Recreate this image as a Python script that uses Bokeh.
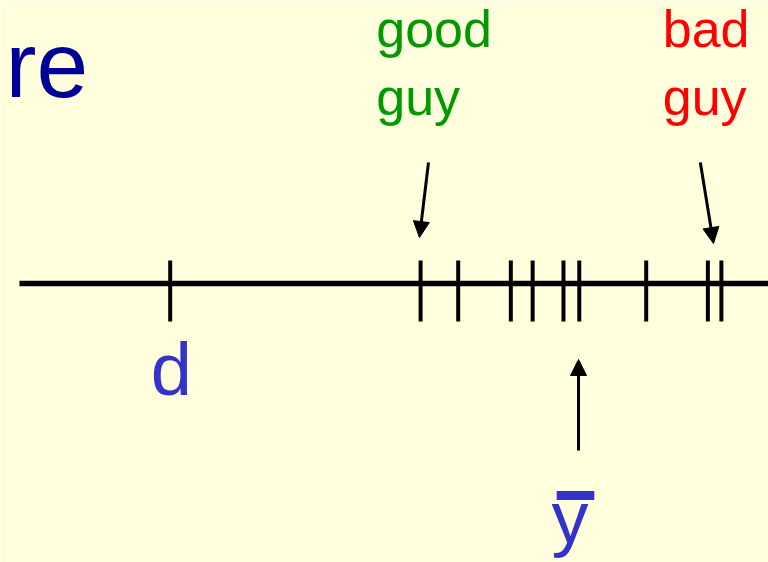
from bokeh.plotting import figure
from bokeh.models import Range1d, Arrow, NormalHead
from bokeh.core.properties import value
from bokeh.embed import file_html
from bokeh.resources import INLINE

# ---- data (number-line units, 0..100 across the slide) ----
d_value = 21.5
observations = [54.8, 59.8, 66.8, 69.7, 73.8, 75.9, 84.8, 93.0, 94.8]
ybar_value = 75.8
good_guy_value = 54.8
bad_guy_value = 94.0

title_text = "re"
good_label = ["good", "guy"]
bad_label = ["bad", "guy"]
d_label = "d"
ybar_label = "y"

BG = "#FFFFDD"
FONT = "Liberation Sans"

p = figure(width=768, height=562, output_backend="svg", toolbar_location=None,
           x_range=Range1d(-8 / 7.52, 760 / 7.52), y_range=Range1d(-279, 283),
           background_fill_color=BG, border_fill_color=BG, min_border=0)
p.axis.visible = False
p.grid.visible = False
p.outline_line_color = None

# number line
p.segment(x0=[1.46], y0=[0], x1=[102], y1=[0], line_color="black", line_width=5.5)

# tick marks for d and observations
ticks = [d_value] + observations
p.segment(x0=ticks, y0=[23] * len(ticks), x1=ticks, y1=[-38] * len(ticks),
          line_color="black", line_width=4)

# title fragment
p.text(x=[-0.4], y=[219], text=[title_text], text_color="#000099",
       text_font=value(FONT), text_font_size=value("93px"),
       text_baseline="alphabetic", text_align="left")

# good guy label
p.text(x=[good_guy_value - 5.9] * 2, y=[255, 187], text=good_label, text_color="#009900",
       text_font=value(FONT), text_font_size=value("52px"),
       text_baseline="alphabetic", text_align="left")

# bad guy label
p.text(x=[bad_guy_value - 7.0] * 2, y=[255, 187], text=bad_label, text_color="#FF0000",
       text_font=value(FONT), text_font_size=value("52px"),
       text_baseline="alphabetic", text_align="left")

# d label
p.text(x=[d_value - 2.6], y=[-86], text=[d_label], text_color="#3333CC",
       text_font=value(FONT), text_font_size=value("74px"),
       text_baseline="alphabetic", text_align="left")

# y-bar label
p.text(x=[ybar_value - 3.6], y=[-234], text=[ybar_label], text_color="#3333CC",
       text_font=value(FONT), text_font_size=value("74px"),
       text_baseline="alphabetic", text_align="left")
p.segment(x0=[ybar_value - 2.9], y0=[-212], x1=[ybar_value + 2.1], y1=[-212],
          line_color="#3333CC", line_width=9, line_cap="butt")

# arrows
def add_arrow(x0, y0, x1, y1):
    p.add_layout(Arrow(end=NormalHead(size=16, fill_color="black", line_color="black"),
                       x_start=x0, y_start=y0, x_end=x1, y_end=y1,
                       line_color="black", line_width=3))

add_arrow(good_guy_value + 1.05, 121, good_guy_value - 0.15, 46)
add_arrow(bad_guy_value - 2.0, 121, bad_guy_value - 0.25, 40)
add_arrow(ybar_value, -167, ybar_value, -76)

open("out.html", "w").write(file_html(p, INLINE))
